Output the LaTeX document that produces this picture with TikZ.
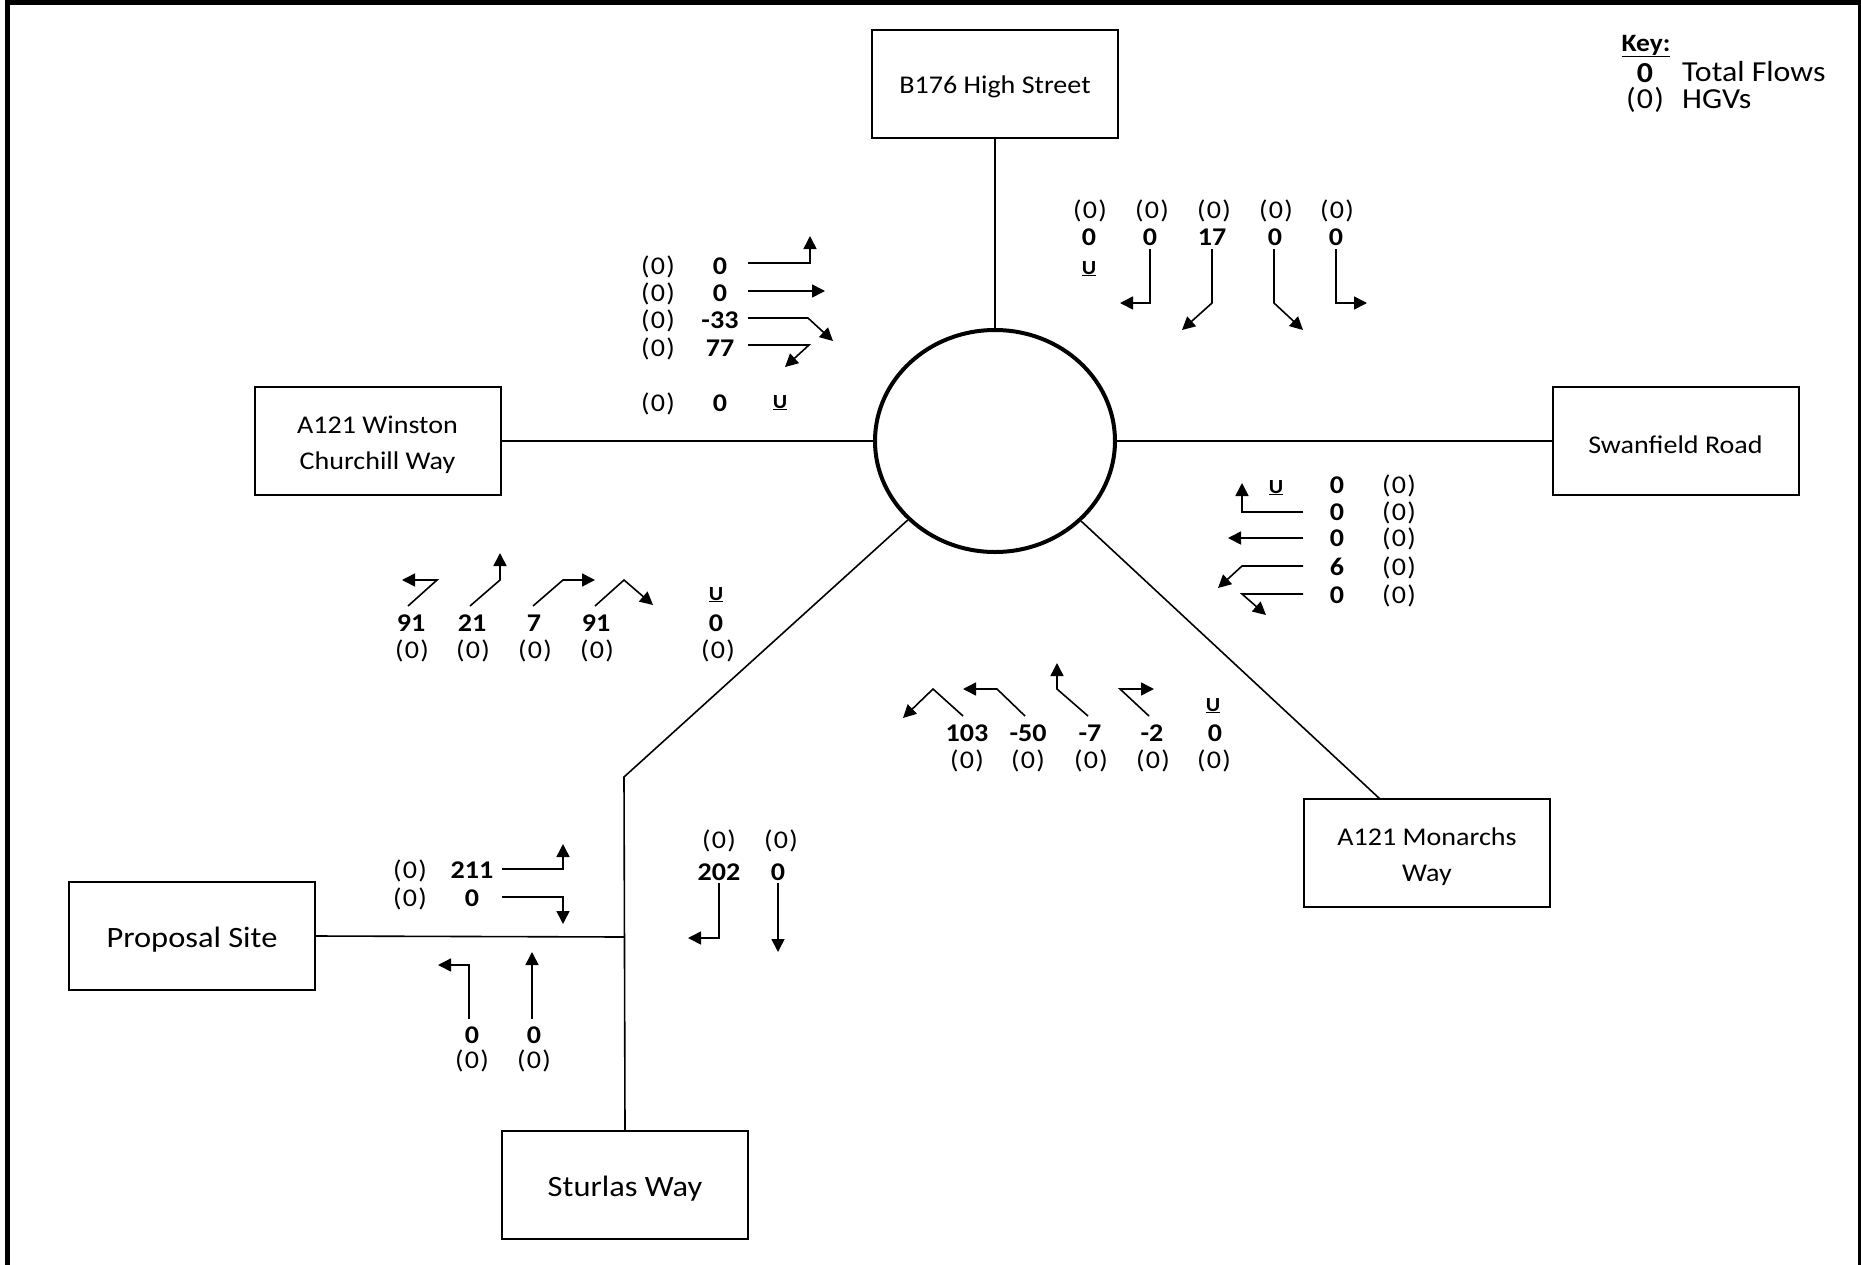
\documentclass[tikz,border=0pt]{standalone}
\usepackage{fontspec}
\setmainfont{Carlito}[FakeStretch=1.1]
\newfontfamily\lf{Carlito}[FakeStretch=1.1]
\usetikzlibrary{arrows.meta,shapes.geometric}
\newcommand\hz{(\kern1.2pt0\kern1.2pt)}
\newcommand\lowertext[1]{\raisebox{-3.5pt}[\height][\depth]{#1}}
\newcommand\twolines[2]{\lowertext{\begin{tabular}{@{}c@{}}#1\\#2\end{tabular}}}
\begin{document}
\begin{tikzpicture}[x=1pt,y=-1pt,
 box/.style={draw,line width=2pt,inner sep=0pt,minimum width=246pt,minimum height=108pt,align=center,font=\lf\fontsize{25.5}{35.6}\selectfont},
 bigbox/.style={box,font=\lf\fontsize{29.5}{33}\selectfont},
 road/.style={line width=1.6pt},
 mv/.style={line width=1.6pt,-{Triangle[length=13pt,width=13pt]}},
 num/.style={inner sep=0pt,text height=16pt,text depth=0pt,font=\lf\bfseries\fontsize{25.5}{28}\selectfont},
 hgv/.style={inner sep=0pt,text height=16pt,text depth=0pt,font=\lf\fontsize{25.5}{28}\selectfont},
 uturn/.style={inner sep=0pt,text height=12pt,text depth=0pt,font=\lf\bfseries\fontsize{20}{22}\selectfont},
 keyt/.style={inner sep=0pt,text height=18pt,text depth=0pt,font=\fontsize{29}{30}\selectfont},
]
\path[use as bounding box] (0,0) rectangle (1861,1264);
\clip (0,0) rectangle (1861,1264);
\draw[line width=5pt] (7.5,1270) -- (7.5,2.5) -- (1860.5,2.5) -- (1860.5,1270);

% roundabout and roads
\node[draw,ellipse,line width=4pt,minimum width=240pt,minimum height=222pt,inner sep=0pt] (rb) at (995,441) {};
\node[box] (b176) at (995,83.5) {\lowertext{B176 High Street}};
\node[box] (winston) at (377.5,441) {\twolines{A121 Winston}{Churchill Way}};
\node[box] (swan) at (1675.5,441) {\lowertext{Swanfield Road}};
\node[box] (monarchs) at (1427,853) {\twolines{A121 Monarchs}{Way}};
\node[bigbox] (proposal) at (192,936) {\lowertext{Proposal Site}};
\node[bigbox] (sturlas) at (625,1185) {\lowertext{Sturlas Way}};
\coordinate (mtop) at (1380,799);
\coordinate (kink) at (624,777);
\coordinate (tj) at (624,937);
\draw[road] (b176) -- (rb);
\draw[road] (winston) -- (rb);
\draw[road] (rb) -- (swan);
\draw[road] (rb) -- (mtop);
\draw[road] (rb) -- (kink) -- (sturlas.north);
\draw[road] (proposal.east) -- (tj);

% key
\node[inner sep=0pt,font=\bfseries\fontsize{25}{26}\selectfont] (keyh) at (1646,46) {\underline{Key:}};
\node[keyt,font=\bfseries\fontsize{29}{30}\selectfont] (keyn) at (1645,73) {0};
\node[keyt,anchor=west] (keytf) at (1682,72) {Total Flows};
\node[keyt] (keyh2) at (1645,99) {\hz};
\node[keyt,anchor=west] (keyhg) at (1682,99) {HGVs};

% NW approach (A121 Winston Churchill Way)
\node[hgv] (nwh1) at (658,266) {\hz};
\node[hgv] (nwh2) at (658,293) {\hz};
\node[hgv] (nwh3) at (658,320) {\hz};
\node[hgv] (nwh4) at (658,348) {\hz};
\node[hgv] (nwh5) at (658,403) {\hz};
\node[num] (nwn1) at (720,266) {0};
\node[num] (nwn2) at (720,293) {0};
\node[num] (nwn3) at (720,320) {-33};
\node[num] (nwn4) at (720,348) {77};
\node[num] (nwn5) at (720,403) {0};
\node[uturn] (nwu) at (780,402) {\underline{U}};
\draw[mv] (748,263) -- (810,263) -- (810,236);
\draw[mv] (748,291) -- (825,291);
\draw[mv] (748,318) -- (808,318) -- (833,341);
\draw[mv] (748,345) -- (809,345) -- (785,367);

% NE approach (B176 High Street)
\node[hgv] (neh1) at (1090,210) {\hz};
\node[hgv] (neh2) at (1152,210) {\hz};
\node[hgv] (neh3) at (1214,210) {\hz};
\node[hgv] (neh4) at (1276,210) {\hz};
\node[hgv] (neh5) at (1337,210) {\hz};
\node[num] (nen1) at (1089,237) {0};
\node[num] (nen2) at (1150,237) {0};
\node[num] (nen3) at (1212,237) {17};
\node[num] (nen4) at (1275,237) {0};
\node[num] (nen5) at (1336,237) {0};
\node[uturn] (neu) at (1089,268) {\underline{U}};
\draw[mv] (1150,249) -- (1150,303) -- (1120,303);
\draw[mv] (1212,249) -- (1212,303) -- (1182,330);
\draw[mv] (1274,249) -- (1274,303) -- (1303,330);
\draw[mv] (1336,249) -- (1336,303) -- (1367,303);

% E approach (Swanfield Road)
\node[num] (en1) at (1337,485) {0};
\node[num] (en2) at (1337,512) {0};
\node[num] (en3) at (1337,538) {0};
\node[num] (en4) at (1337,567) {6};
\node[num] (en5) at (1337,595) {0};
\node[hgv] (eh1) at (1399,485) {\hz};
\node[hgv] (eh2) at (1399,512) {\hz};
\node[hgv] (eh3) at (1399,538) {\hz};
\node[hgv] (eh4) at (1399,567) {\hz};
\node[hgv] (eh5) at (1399,595) {\hz};
\node[uturn] (eu) at (1276,487) {\underline{U}};
\draw[mv] (1303,512) -- (1242,512) -- (1242,483);
\draw[mv] (1303,538) -- (1228,538);
\draw[mv] (1303,566) -- (1242,566) -- (1218,588);
\draw[mv] (1303,594) -- (1242,594) -- (1266,615);

% SW approach
\node[num] (swn1) at (411,623) {91};
\node[num] (swn2) at (472,623) {21};
\node[num] (swn3) at (534,623) {7};
\node[num] (swn4) at (596,623) {91};
\node[num] (swn5) at (716,623) {0};
\node[hgv] (swh1) at (412,650) {\hz};
\node[hgv] (swh2) at (473,650) {\hz};
\node[hgv] (swh3) at (535,650) {\hz};
\node[hgv] (swh4) at (597,650) {\hz};
\node[hgv] (swh5) at (718,650) {\hz};
\node[uturn] (swu) at (716,594) {\underline{U}};
\draw[mv] (408,606) -- (437,580) -- (402,580);
\draw[mv] (470,606) -- (500,580) -- (500,553);
\draw[mv] (533,606) -- (563,580) -- (595,580);
\draw[mv] (595,606) -- (624,580) -- (653,605);

% SE approach (A121 Monarchs Way)
\node[num] (sen1) at (967,733) {103};
\node[num] (sen2) at (1028,733) {-50};
\node[num] (sen3) at (1090,733) {-7};
\node[num] (sen4) at (1152,733) {-2};
\node[num] (sen5) at (1215,733) {0};
\node[hgv] (seh1) at (967,760) {\hz};
\node[hgv] (seh2) at (1028,760) {\hz};
\node[hgv] (seh3) at (1091,760) {\hz};
\node[hgv] (seh4) at (1153,760) {\hz};
\node[hgv] (seh5) at (1214,760) {\hz};
\node[uturn] (seu) at (1213,705) {\underline{U}};
\draw[mv] (963,716) -- (933,689) -- (903,718);
\draw[mv] (1025,716) -- (997,689) -- (963,689);
\draw[mv] (1088,716) -- (1057,689) -- (1057,663);
\draw[mv] (1149,716) -- (1120,689) -- (1154,689);

% Proposal Site approach
\node[hgv] (ph1) at (410,870) {\hz};
\node[hgv] (ph2) at (410,898) {\hz};
\node[num] (pn1) at (472,870) {211};
\node[num] (pn2) at (472,898) {0};
\draw[mv] (502,869) -- (563,869) -- (563,844);
\draw[mv] (502,897) -- (563,897) -- (563,924);

% Sturlas Way approach
\node[num] (sn1) at (472,1035) {0};
\node[num] (sn2) at (534,1035) {0};
\node[hgv] (sh1) at (472,1060) {\hz};
\node[hgv] (sh2) at (534,1060) {\hz};
\draw[mv] (469,1019) -- (469,965) -- (438,965);
\draw[mv] (532,1019) -- (532,952);

% from north towards Sturlas / Proposal
\node[hgv] (th1) at (719,840) {\hz};
\node[hgv] (th2) at (781,840) {\hz};
\node[num] (tn1) at (719,872) {202};
\node[num] (tn2) at (778,872) {0};
\draw[mv] (719,883) -- (719,938) -- (688,938);
\draw[mv] (778,883) -- (778,952);
\end{tikzpicture}
\end{document}
